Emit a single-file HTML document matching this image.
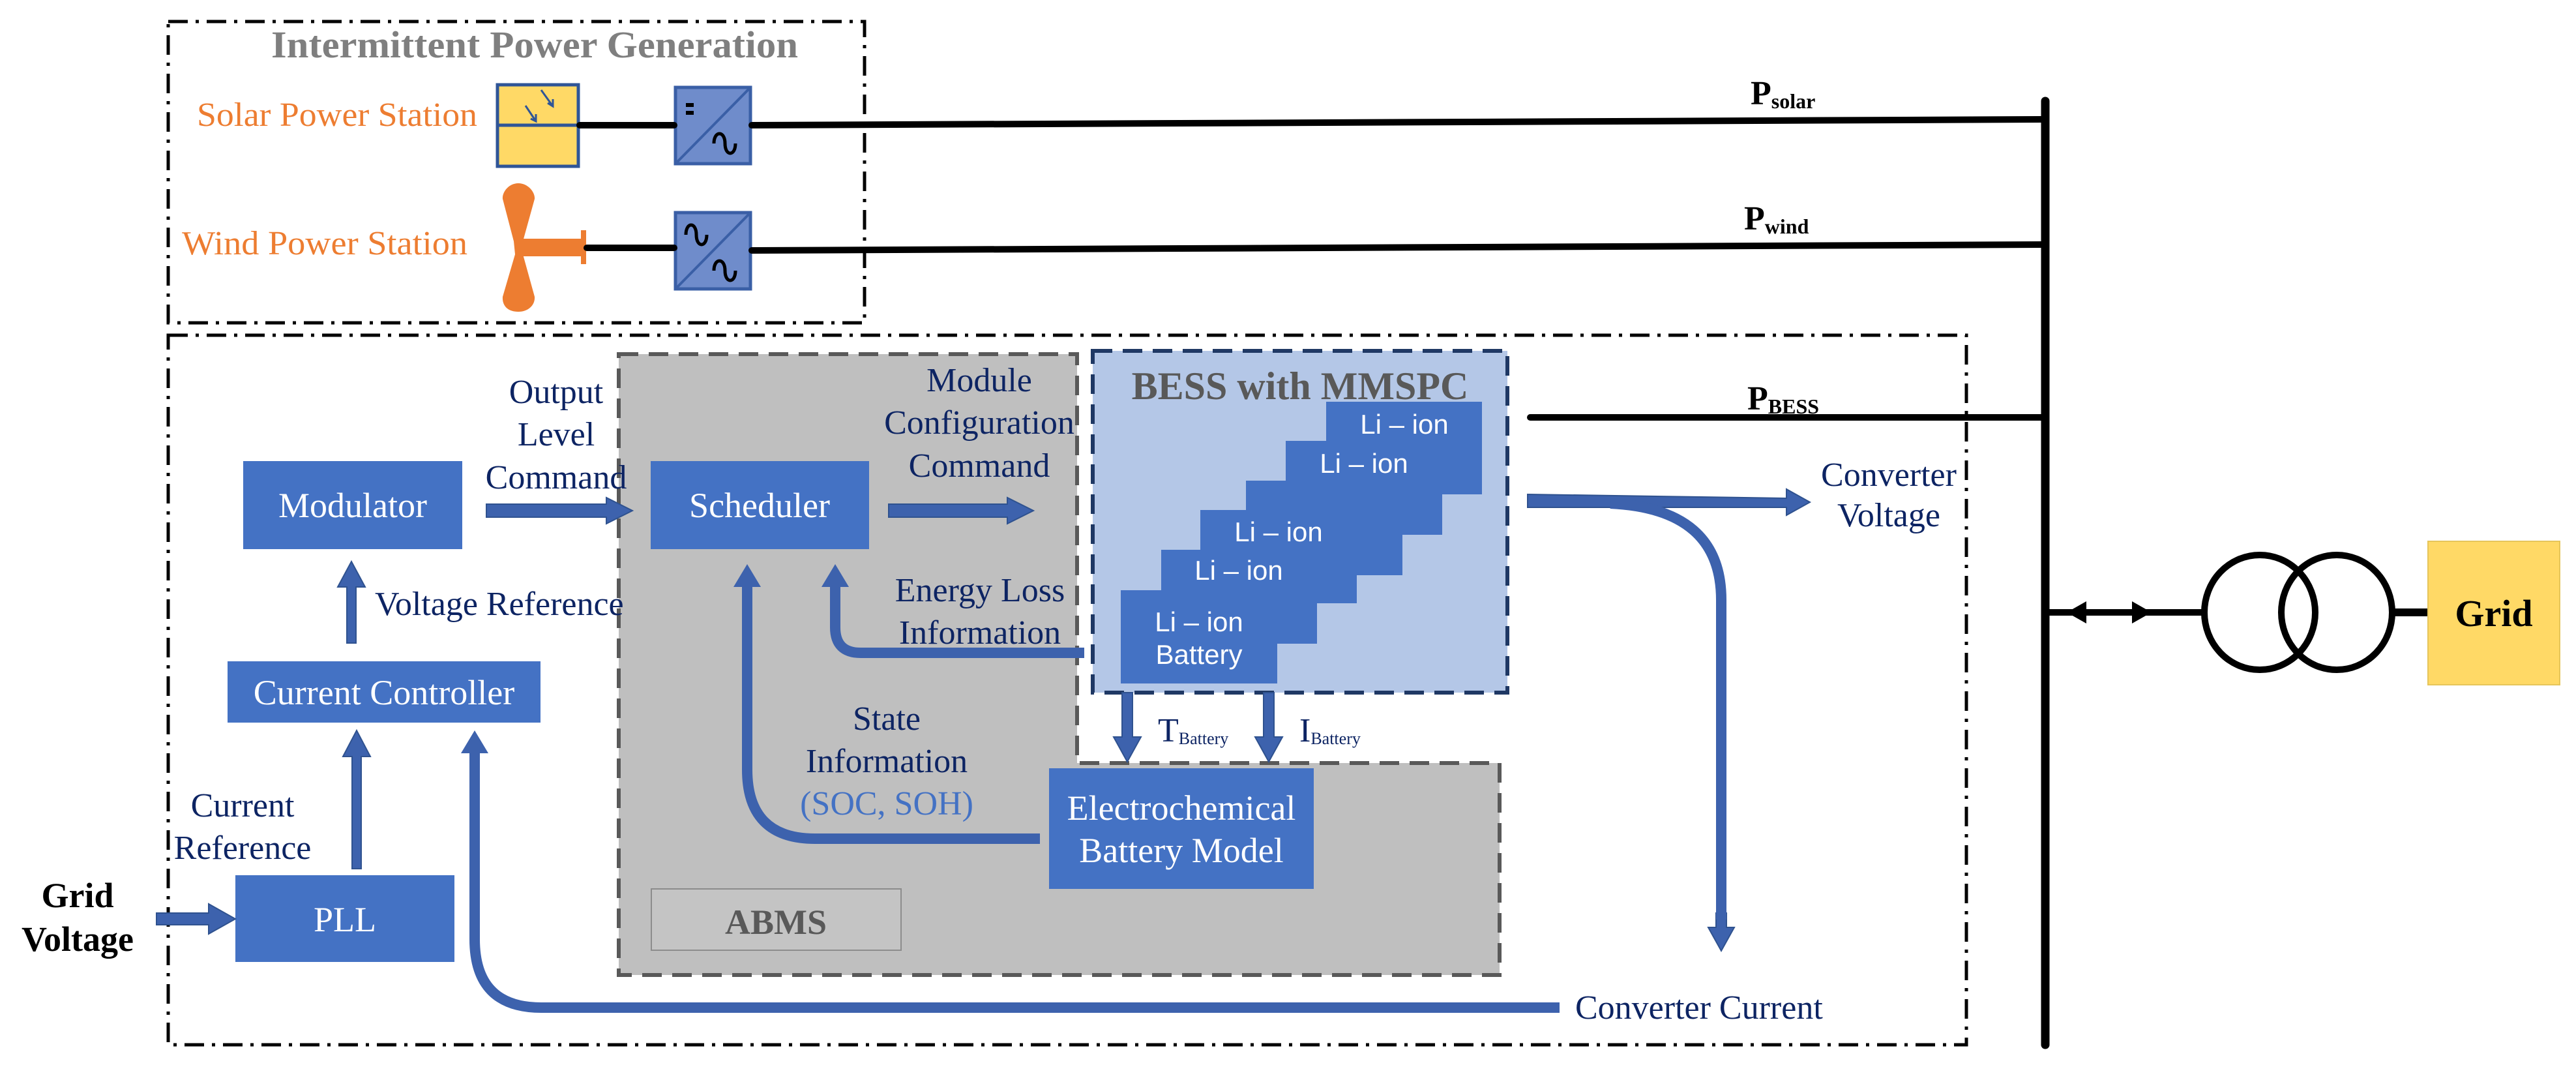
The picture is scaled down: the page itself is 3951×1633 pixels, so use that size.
<!DOCTYPE html>
<html><head><meta charset="utf-8"><style>
html,body{margin:0;padding:0;background:#fff}
svg{display:block}
text{font-family:"Liberation Serif",serif}
.nv{fill:#0d2463;font-size:52px}
.bx{fill:#fff;font-size:54px}
.li{fill:#fff;font-family:"Liberation Sans",sans-serif;font-size:42px}
</style></head><body>
<svg width="3951" height="1633" viewBox="0 0 3951 1633" xmlns="http://www.w3.org/2000/svg">
<g fill="none" stroke="#000" stroke-width="5" stroke-dasharray="30 12 5 12">
<rect x="258" y="33" width="1068" height="462"/>
<rect x="258" y="514" width="2758" height="1088"/>
</g>
<text x="820" y="88" text-anchor="middle" font-weight="bold" font-size="58" fill="#7f7f7f" textLength="808" lengthAdjust="spacingAndGlyphs">Intermittent Power Generation</text>
<text x="302" y="193" font-size="52" fill="#ed7d31" textLength="430" lengthAdjust="spacingAndGlyphs">Solar Power Station</text>
<text x="279" y="390" font-size="52" fill="#ed7d31" textLength="438" lengthAdjust="spacingAndGlyphs">Wind Power Station</text>
<rect x="763" y="130" width="124" height="125" fill="#ffd966" stroke="#2f5597" stroke-width="5"/>
<line x1="763" y1="192" x2="887" y2="192" stroke="#2f5597" stroke-width="5"/>
<g stroke="#2f5597" stroke-width="3" fill="none"><path d="M830 138 L848 163 M840 158 L848 163 L848 152"/><path d="M806 162 L822 186 M814 182 L822 186 L822 175"/></g>
<rect x="1036" y="134" width="115" height="117" fill="#6f8ccb" stroke="#3a5fa6" stroke-width="5"/>
<line x1="1038" y1="249" x2="1149" y2="136" stroke="#3a5fa6" stroke-width="4"/>
<rect x="1052" y="158" width="12" height="6" fill="#000"/><rect x="1052" y="170" width="12" height="6" fill="#000"/>
<path d="M1095 220 C1095 200 1112 200 1112 220 C1112 240 1128 240 1128 220" fill="none" stroke="#000" stroke-width="5"/>
<rect x="1036" y="326" width="115" height="117" fill="#6f8ccb" stroke="#3a5fa6" stroke-width="5"/>
<line x1="1038" y1="441" x2="1149" y2="328" stroke="#3a5fa6" stroke-width="4"/>
<path d="M1052 360 C1052 340 1068 340 1068 360 C1068 380 1084 380 1084 360" fill="none" stroke="#000" stroke-width="5"/>
<path d="M1095 415 C1095 395 1112 395 1112 415 C1112 435 1128 435 1128 415" fill="none" stroke="#000" stroke-width="5"/>
<path d="M795 281 C780 281 770 295 771 305 L788 370 L790 390 L771 455 C770 470 780 478 795 478 C810 478 821 468 820 455 L802 390 L802 370 L820 305 C821 295 810 281 795 281 Z" fill="#ed7d31"/>
<rect x="798" y="366" width="95" height="27" fill="#ed7d31"/>
<rect x="891" y="353" width="8" height="52" fill="#ed7d31"/>
<g stroke="#000" stroke-width="10" stroke-linecap="round" fill="none">
<line x1="889" y1="192" x2="1034" y2="192"/>
<path d="M1153 192 L3132 183"/>
<line x1="900" y1="380" x2="1034" y2="380"/>
<path d="M1153 384 L3132 375"/>
<line x1="2347" y1="640" x2="3132" y2="640"/>
</g>
<line x1="3137" y1="155" x2="3137" y2="1602" stroke="#000" stroke-width="13" stroke-linecap="round"/>
<g font-weight="bold" fill="#000">
<text x="2685" y="160" font-size="52">P<tspan font-size="32" dy="6">solar</tspan></text>
<text x="2675" y="352" font-size="52">P<tspan font-size="32" dy="6">wind</tspan></text>
<text x="2680" y="628" font-size="52">P<tspan font-size="32" dy="6">BESS</tspan></text>
</g>
<line x1="3137" y1="939" x2="3380" y2="939" stroke="#000" stroke-width="10"/>
<polygon points="3170,939 3200,922 3200,956" fill="#000"/>
<polygon points="3300,939 3270,922 3270,956" fill="#000"/>
<ellipse cx="3466" cy="939" rx="85" ry="88" fill="none" stroke="#000" stroke-width="10"/>
<ellipse cx="3584" cy="939" rx="85" ry="88" fill="none" stroke="#000" stroke-width="10"/>
<line x1="3669" y1="939" x2="3724" y2="939" stroke="#000" stroke-width="12"/>
<rect x="3724" y="830" width="202" height="220" fill="#ffd966" stroke="#e6c55a" stroke-width="2"/>
<text x="3825" y="960" text-anchor="middle" font-weight="bold" font-size="58">Grid</text>
<path d="M949 543 L1652 543 L1652 1170 L2300 1170 L2300 1495 L949 1495 Z" fill="#bfbfbf" stroke="#595959" stroke-width="6" stroke-dasharray="30 16"/>
<rect x="999" y="1363" width="383" height="94" fill="#c4c4c4" stroke="#8c8c8c" stroke-width="2"/>
<text x="1190" y="1432" text-anchor="middle" font-weight="bold" font-size="54" fill="#595959">ABMS</text>
<rect x="1676" y="538" width="636" height="524" fill="#b4c7e7" stroke="#1f3864" stroke-width="6" stroke-dasharray="30 16"/>
<text x="1994" y="612" text-anchor="middle" font-weight="bold" font-size="60" fill="#595959">BESS with MMSPC</text>
<g fill="#4472c4">
<rect x="2034" y="616" width="239" height="142"/>
<rect x="1972" y="676" width="240" height="144"/>
<rect x="1911" y="737" width="240" height="145"/>
<rect x="1841" y="782" width="240" height="143"/>
<rect x="1781" y="843" width="239" height="144"/>
<rect x="1719" y="905" width="240" height="143"/>
</g>
<text class="li" x="2154" y="665" text-anchor="middle">Li – ion</text>
<text class="li" x="2092" y="725" text-anchor="middle">Li – ion</text>
<text class="li" x="1961" y="830" text-anchor="middle">Li – ion</text>
<text class="li" x="1900" y="889" text-anchor="middle">Li – ion</text>
<text class="li" x="1839" y="968" text-anchor="middle">Li – ion</text>
<text class="li" x="1839" y="1018" text-anchor="middle">Battery</text>
<g fill="#4472c4">
<rect x="373" y="707" width="336" height="135"/>
<rect x="998" y="707" width="335" height="135"/>
<rect x="349" y="1014" width="480" height="94"/>
<rect x="361" y="1342" width="336" height="133"/>
<rect x="1609" y="1178" width="406" height="185"/>
</g>
<text class="bx" x="541" y="793" text-anchor="middle">Modulator</text>
<text class="bx" x="1165" y="793" text-anchor="middle">Scheduler</text>
<text class="bx" x="589" y="1080" text-anchor="middle">Current Controller</text>
<text class="bx" x="529" y="1428" text-anchor="middle">PLL</text>
<text class="bx" x="1812" y="1257" text-anchor="middle">Electrochemical</text>
<text class="bx" x="1812" y="1322" text-anchor="middle">Battery Model</text>
<g fill="#3d62ad" stroke="#2f528f" stroke-width="2">
<polygon points="746,773 930,773 930,763 970,783 930,803 930,793 746,793"/>
<polygon points="1363,773 1545,773 1545,763 1585,783 1545,803 1545,793 1363,793"/>
<polygon points="532,986 532,900 518,900 539,861 560,900 546,900 546,986"/>
<polygon points="540,1332 540,1160 526,1160 547,1120 568,1160 554,1160 554,1332"/>
<polygon points="240,1400 320,1400 320,1386 361,1409 320,1432 320,1418 240,1418"/>
<polygon points="1721,1062 1737,1062 1737,1130 1750,1130 1729,1168 1708,1130 1721,1130"/>
<polygon points="1938,1062 1954,1062 1954,1130 1967,1130 1946,1168 1925,1130 1938,1130"/>
<polygon points="2343,758 2740,764 2740,750 2776,770 2740,790 2740,778 2343,778"/>
<polygon points="2632,1400 2648,1400 2648,1422 2660,1422 2640,1458 2620,1422 2632,1422"/>
</g>
<g fill="none" stroke="#3d62ad" stroke-width="16">
<path d="M1663 1001 L1320 1001 Q1281 1001 1281 962 L1281 895"/>
<path d="M1595 1286 L1250 1286 Q1146 1286 1146 1180 L1146 895"/>
<path d="M2392 1545 L830 1545 Q728 1545 728 1440 L728 1150"/>
<path d="M2470 772 Q2640 780 2640 920 L2640 1410"/>
</g>
<g fill="#3d62ad">
<polygon points="1281,865 1260,900 1302,900"/>
<polygon points="1146,865 1125,900 1167,900"/>
<polygon points="728,1120 707,1155 749,1155"/>
</g>
<g text-anchor="middle">
<text class="nv" x="853" y="618">Output</text>
<text class="nv" x="853" y="683">Level</text>
<text class="nv" x="853" y="749">Command</text>
<text class="nv" x="1502" y="600">Module</text>
<text class="nv" x="1502" y="665">Configuration</text>
<text class="nv" x="1502" y="731">Command</text>
<text class="nv" x="1503" y="922">Energy Loss</text>
<text class="nv" x="1503" y="987">Information</text>
<text class="nv" x="1360" y="1119">State</text>
<text class="nv" x="1360" y="1184">Information</text>
<text x="1360" y="1249" font-size="52" fill="#4472c4">(SOC, SOH)</text>
<text class="nv" x="372" y="1252">Current</text>
<text class="nv" x="372" y="1317">Reference</text>
<text class="nv" x="2897" y="745">Converter</text>
<text class="nv" x="2897" y="807">Voltage</text>
</g>
<text class="nv" x="575" y="943">Voltage Reference</text>
<text class="nv" x="2416" y="1562">Converter Current</text>
<text x="1776" y="1137" font-size="52" fill="#0d2463">T<tspan font-size="26" dy="4">Battery</tspan></text>
<text x="1993" y="1137" font-size="52" fill="#0d2463">I<tspan font-size="26" dy="4">Battery</tspan></text>
<text x="119" y="1391" text-anchor="middle" font-weight="bold" font-size="54">Grid</text>
<text x="119" y="1458" text-anchor="middle" font-weight="bold" font-size="54">Voltage</text>
</svg>
</body></html>
